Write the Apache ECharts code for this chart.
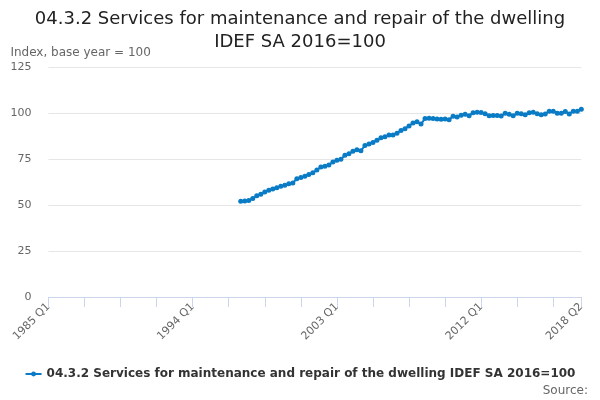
<!DOCTYPE html>
<html>
<head>
<meta charset="utf-8">
<script src="https://cdn.jsdelivr.net/npm/echarts@6/dist/echarts.min.js"></script>
<style>html,body{margin:0;padding:0;background:#fff}#c{width:600px;height:400px}</style>
</head>
<body>
<div id="c"></div>
<script>
var startYear = 1985, endYear = 2018, endQuarter = 2;
var categories = [];
for (var y = startYear; y <= endYear; y++) {
  for (var q = 1; q <= 4; q++) {
    if (y === endYear && q > endQuarter) break;
    categories.push(y + ' Q' + q);
  }
}
var firstDataQuarter = '1997 Q1';
var seriesName = '04.3.2 Services for maintenance and repair of the dwelling IDEF SA 2016=100';
var values = [
  52.0, 52.2, 52.5, 53.5,
  55.0, 55.8, 57.0, 58.0,
  58.7, 59.4, 60.2, 60.7,
  61.6, 62.0, 64.3, 65.0,
  65.6, 66.6, 67.5, 69.0,
  70.6, 71.0, 71.8, 73.4,
  74.3, 74.8, 77.0, 77.8,
  79.2, 80.0, 79.5, 82.3,
  83.2, 84.0, 85.2, 86.5,
  87.1, 88.0, 88.0, 89.0,
  90.5, 91.5, 93.0, 94.6,
  95.3, 94.0, 97.0, 97.2,
  97.0, 96.8, 96.6, 96.8,
  96.3, 98.3, 97.8, 98.8,
  99.3, 98.5, 100.2, 100.4,
  100.3, 99.6, 98.5, 98.7,
  98.6, 98.4, 99.8, 99.3,
  98.5, 99.8, 99.6, 99.0,
  100.2, 100.4, 99.6, 99.0,
  99.5, 101.0, 101.0, 99.8,
  99.8, 100.8, 99.5, 101.0,
  100.9, 102.0
];
var yTicks = [0, 25, 50, 75, 100, 125];

var startIdx = categories.indexOf(firstDataQuarter);
var data = categories.map(function (c, i) {
  var k = i - startIdx;
  return (k >= 0 && k < values.length) ? values[k] : null;
});
var lastIdx = categories.length - 1;
var color = '#0a7bc5';
var font = 'DejaVu Sans';

var chart = echarts.init(document.getElementById('c'), null, {renderer: 'canvas'});
chart.setOption({
  animation: false,
  title: {
    text: '04.3.2 Services for maintenance and repair of the dwelling\nIDEF SA 2016=100',
    left: 'center', top: 3,
    textStyle: {fontFamily: font, fontSize: 18, fontWeight: 'normal', color: '#222', lineHeight: 23}
  },
  grid: {left: 48.4, right: 18.7, top: 67, bottom: 103, containLabel: false},
  xAxis: {
    type: 'category',
    data: categories,
    boundaryGap: false,
    axisLine: {lineStyle: {color: '#ccd6eb'}},
    axisTick: {length: 10, lineStyle: {color: '#ccd6eb'},
      interval: function (i) { return i % 9 === 0 || i === lastIdx; }},
    axisLabel: {
      rotate: 45, fontFamily: font, fontSize: 11, color: '#666', margin: 8,
      interval: function (i) { return i % 36 === 0 || i === lastIdx; }
    },
    splitLine: {show: false}
  },
  yAxis: {
    type: 'value',
    min: yTicks[0], max: yTicks[yTicks.length - 1], interval: 25,
    name: 'Index, base year = 100',
    nameLocation: 'end',
    nameGap: 8,
    nameTextStyle: {fontFamily: font, fontSize: 12, color: '#666', align: 'left', padding: [0, 0, 0, -38]},
    axisLine: {show: false},
    axisTick: {show: false},
    axisLabel: {fontFamily: font, fontSize: 11, color: '#666', margin: 17},
    splitLine: {lineStyle: {color: '#e6e6e6'}}
  },
  legend: {
    bottom: 15, left: 'center',
    itemWidth: 16, itemHeight: 6, itemGap: 4,
    textStyle: {fontFamily: font, fontSize: 12, fontWeight: 'bold', color: '#333'},
    data: [{name: seriesName}]
  },
  graphic: [{
    type: 'text', right: 12, bottom: 3,
    style: {text: 'Source:', fontFamily: font, fontSize: 12, fill: '#666'}
  }],
  series: [{
    name: seriesName,
    type: 'line',
    data: data,
    connectNulls: false,
    symbol: 'circle', symbolSize: 5, showSymbol: true, showAllSymbol: true,
    itemStyle: {color: color},
    lineStyle: {color: color, width: 2}
  }]
});
</script>
</body>
</html>
